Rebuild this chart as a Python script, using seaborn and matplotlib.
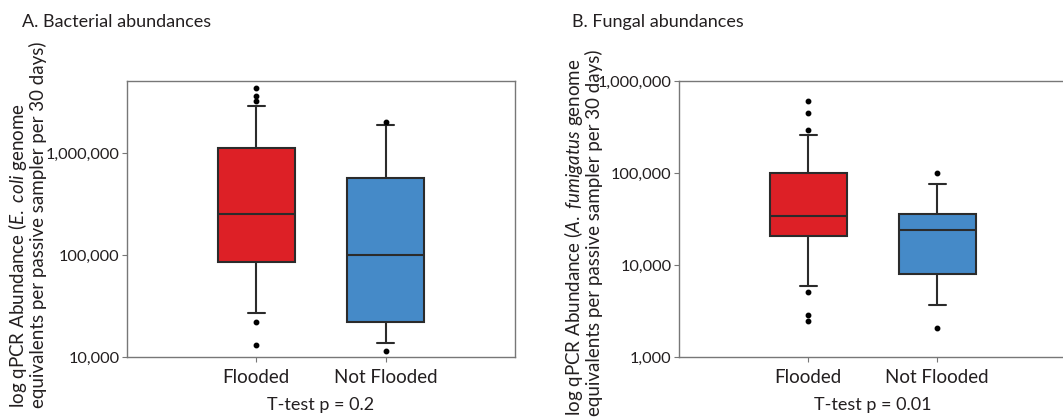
### Flooded vs not flooded qPCR abundances ###

import numpy as np
import pandas as pd
import matplotlib
matplotlib.use("Agg")
import matplotlib.pyplot as plt
from matplotlib.ticker import FuncFormatter, LogLocator, NullLocator
import seaborn as sns

# groups on the x axis
sites = ["Flooded", "Not Flooded"]

# values (genome equivalents per sampler per 30 days)
# panel A: E. coli
bact_flooded = [13000, 22000, 27000, 40000, 55000, 70000, 85000, 100000, 130000,
                160000, 190000, 220000, 255000, 320000, 420000, 560000, 720000,
                900000, 1130000, 1500000, 2100000, 2900000, 3250000, 3600000, 4300000]
bact_not_flooded = [11500, 13800, 22000, 50000, 100000, 250000, 565000, 1900000, 2000000]

# panel B: A. fumigatus
fung_flooded = [2450, 2900, 5150, 5950, 9000, 14000, 20500, 23000, 25000, 27500,
                30000, 32500, 34500, 40000, 48000, 58000, 70000, 85000, 100000,
                140000, 200000, 260000, 295000, 450000, 610000]
fung_not_flooded = [2100, 3700, 8000, 15000, 24000, 30000, 36000, 77000, 100000]

titles = ["A. Bacterial abundances", "B. Fungal abundances"]
pvals = ["T-test p = 0.2", "T-test p = 0.01"]

colors = ["#DD2026", "#458AC8"]
edge = "#2B2B2B"
text_col = "#231F20"


def make_df(flooded, not_flooded):
    return pd.DataFrame({
        "site": [sites[0]] * len(flooded) + [sites[1]] * len(not_flooded),
        "abundance": flooded + not_flooded,
    })


bact = make_df(bact_flooded, bact_not_flooded)
fung = make_df(fung_flooded, fung_not_flooded)

sns.set_style("ticks")
plt.rcParams["font.family"] = ["Lato", "DejaVu Sans"]
plt.rcParams["mathtext.fontset"] = "custom"
plt.rcParams["mathtext.it"] = "Lato:italic"
plt.rcParams["mathtext.rm"] = "Lato"

fig = plt.figure(figsize=(10.63, 4.17), dpi=100)
ax1 = fig.add_axes([127 / 1063, 60 / 417, 388 / 1063, 276 / 417])
ax2 = fig.add_axes([679.3 / 1063, 59.7 / 417, 387 / 1063, 276.3 / 417])

box_kw = dict(x="site", y="abundance", hue="site", palette=colors, legend=False,
              log_scale=True, width=0.6, saturation=1, linewidth=1.5,
              linecolor=edge, fliersize=3.2, capwidths=0.135,
              flierprops=dict(marker="o", markerfacecolor="black",
                              markeredgecolor="black"))

# whiskers are percentile based in the original
sns.boxplot(data=bact, ax=ax1, whis=(8, 90), **box_kw)
sns.boxplot(data=fung, ax=ax2, whis=(10, 90), **box_kw)

ax1.set_ylim(1e4, 5.08e6)
ax2.set_ylim(1e3, 1e6)

ylabels = [
    "log qPCR Abundance ($\\mathit{E.\\ coli}$ genome\nequivalents per passive sampler per 30 days)",
    "log qPCR Abundance ($\\mathit{A.\\ fumigatus}$ genome\nequivalents per passive sampler per 30 days)",
]
label_xy = [(-0.206, -0.185), (-0.197, -0.214)]

for i, ax in enumerate([ax1, ax2]):
    ax.set_xlim(-1, 2)
    ax.yaxis.set_major_locator(LogLocator(base=10))
    ax.yaxis.set_minor_locator(NullLocator())
    ax.yaxis.set_major_formatter(FuncFormatter(lambda v, p: f"{v:,.0f}"))
    ax.tick_params(axis="y", labelsize=11.8, length=3.5, width=0.8, color="#777777",
                   labelcolor=text_col, pad=2)
    ax.tick_params(axis="x", labelsize=13.5, length=3.5, width=0.8, color="#777777",
                   labelcolor=text_col, pad=5)
    for s in ax.spines.values():
        s.set_visible(True)
        s.set_color("#777777")
        s.set_linewidth(1.0)
    ax.set_xlabel(pvals[i], fontsize=13, color=text_col, labelpad=8)
    ax.set_ylabel(ylabels[i], fontsize=13.5, color=text_col, linespacing=1.0,
                  ha="left", multialignment="left")
    ax.yaxis.set_label_coords(*label_xy[i])
    fig.text([21.7 / 1063, 571.7 / 1063][i], 1 - 26.7 / 417, titles[i],
             fontsize=13, color=text_col, va="baseline")

fig.savefig("out.png", dpi=100)
